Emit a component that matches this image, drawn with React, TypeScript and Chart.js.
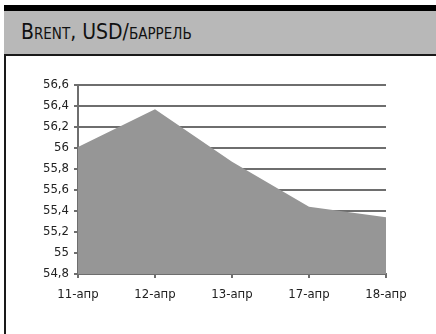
import React, { useEffect, useRef } from "react";
import { Chart, registerables } from "chart.js";

Chart.register(...registerables);

const categories = ["11-апр", "12-апр", "13-апр", "17-апр", "18-апр"];
const brentValues = [56.01, 56.37, 55.87, 55.44, 55.34];
const yMin = 54.8;
const yMax = 56.6;
const yStep = 0.2;
const titleText = "Brent, USD/баррель";

const tickFont = "'DejaVu Sans Condensed', 'DejaVu Sans', sans-serif";

export default function App() {
  const canvasRef = useRef<HTMLCanvasElement | null>(null);

  useEffect(() => {
    const canvas = canvasRef.current;
    if (!canvas) return;
    const chart = new Chart(canvas, {
      type: "line",
      data: {
        labels: categories,
        datasets: [
          {
            data: brentValues,
            fill: "origin",
            backgroundColor: "#969696",
            borderColor: "#969696",
            borderWidth: 0,
            pointRadius: 0,
            tension: 0,
          },
        ],
      },
      options: {
        animation: false,
        responsive: false,
        maintainAspectRatio: false,
        layout: { padding: { left: 0, top: 27, right: 50, bottom: 0 } },
        plugins: {
          legend: { display: false },
          tooltip: { enabled: false },
          title: { display: false },
        },
        scales: {
          x: {
            type: "category",
            offset: false,
            grid: {
              drawOnChartArea: false,
              drawTicks: true,
              tickLength: 4,
              color: "#6e6e6e",
              lineWidth: 2,
            },
            border: { color: "#6e6e6e", width: 2 },
            ticks: {
              color: "#222222",
              font: { family: tickFont, size: 13 },
              padding: 9,
              maxRotation: 0,
              autoSkip: false,
            },
            afterFit: (scale: any) => {
              scale.height = 60;
            },
          },
          y: {
            min: yMin,
            max: yMax,
            grid: {
              color: "#6e6e6e",
              lineWidth: 2,
              drawTicks: true,
              tickLength: 4,
            },
            border: { color: "#6e6e6e", width: 2 },
            ticks: {
              stepSize: yStep,
              color: "#222222",
              font: { family: tickFont, size: 13 },
              padding: 5,
              callback: (v: any) => {
                const n = Math.round(Number(v) * 10) / 10;
                return String(n).replace(".", ",");
              },
            },
            afterFit: (scale: any) => {
              scale.width = 72;
            },
          },
        },
      },
    });
    return () => chart.destroy();
  }, []);

  return (
    <div
      style={{
        position: "fixed",
        left: 0,
        top: 0,
        width: 436,
        height: 334,
        background: "#ffffff",
        overflow: "hidden",
      }}
    >
      <div
        style={{
          position: "absolute",
          left: 4,
          top: 5,
          width: 432,
          height: 6,
          background: "#000000",
        }}
      />
      <div
        style={{
          position: "absolute",
          left: 4,
          top: 11,
          width: 432,
          height: 45,
          background: "#b8b8b8",
          borderBottom: "2px solid #1a1a1a",
          boxSizing: "border-box",
        }}
      >
        <div
          style={{
            position: "absolute",
            left: 17,
            top: 9,
            fontFamily: "'Liberation Sans Narrow', 'DejaVu Sans Condensed', sans-serif",
            fontSize: 21,
            fontVariant: "small-caps",
            color: "#111111",
            whiteSpace: "nowrap",
            lineHeight: "24px",
          }}
        >
          {titleText}
        </div>
      </div>
      <div
        style={{
          position: "absolute",
          left: 4,
          top: 56,
          width: 2,
          height: 278,
          background: "#1a1a1a",
        }}
      />
      <canvas
        ref={canvasRef}
        width={430}
        height={276}
        style={{ position: "absolute", left: 6, top: 58, width: 430, height: 276 }}
      />
    </div>
  );
}
